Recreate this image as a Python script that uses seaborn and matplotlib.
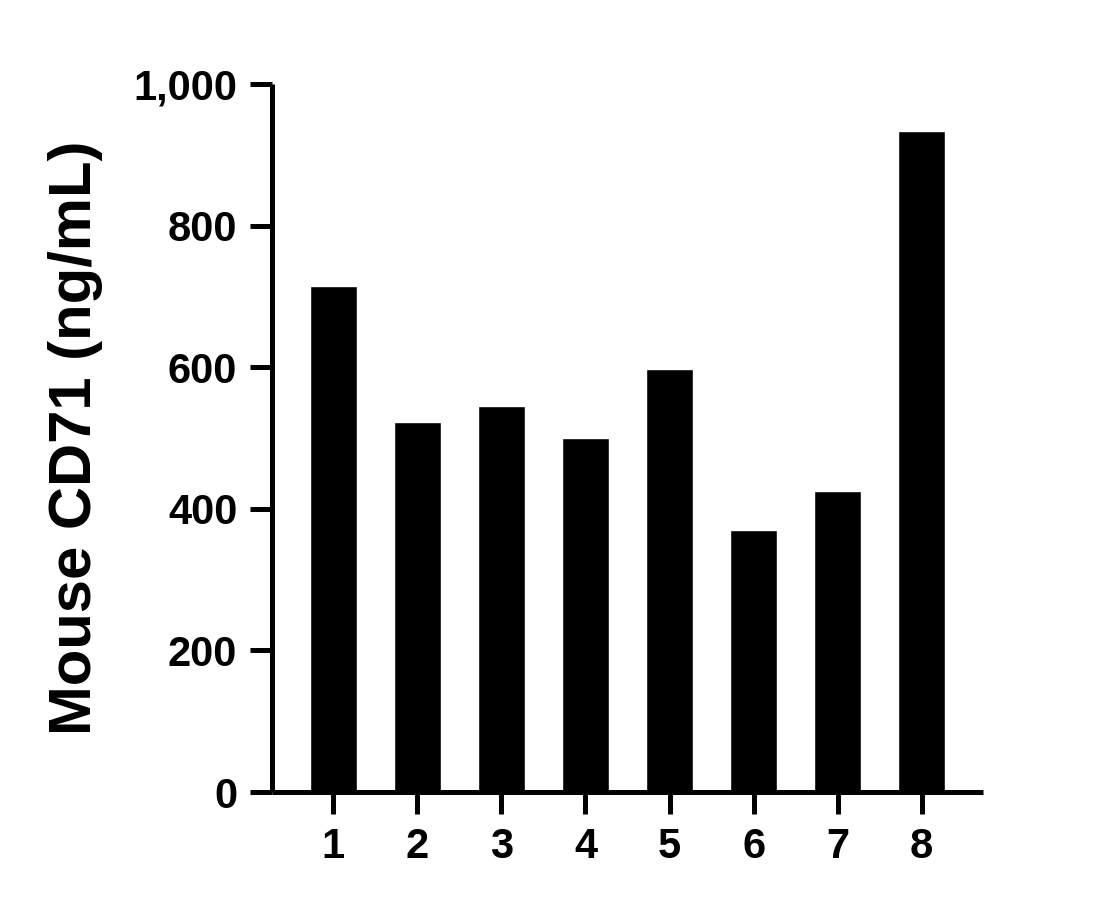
import matplotlib
matplotlib.use("Agg")
import matplotlib.pyplot as plt
import matplotlib.ticker as mticker
import seaborn as sns

# Sample numbers and measured concentrations
samples = ["1", "2", "3", "4", "5", "6", "7", "8"]
cd71_ng_ml = [715, 523, 545, 500, 597, 370, 425, 933]
y_ticks = [0, 200, 400, 600, 800, 1000]

sns.set_style("ticks")
plt.rcParams["font.family"] = ["Liberation Sans", "DejaVu Sans"]
plt.rcParams["font.weight"] = "bold"
plt.rcParams["text.color"] = "black"
plt.rcParams["axes.labelcolor"] = "black"
plt.rcParams["xtick.color"] = "black"
plt.rcParams["ytick.color"] = "black"

fig = plt.figure(figsize=(11.15, 9.09), dpi=100)
ax = fig.add_axes([272 / 1115, 117 / 909, 711 / 1115, 708 / 909])

sns.barplot(x=samples, y=cd71_ng_ml, color="black", saturation=1, width=0.56, ax=ax)

ax.set_xlim(-0.73, 7.73)
ax.set_ylim(0, 1000)
ax.set_yticks(y_ticks)
ax.yaxis.set_major_formatter(mticker.StrMethodFormatter("{x:,.0f}"))

lw = 3.6
for side in ["top", "right"]:
    ax.spines[side].set_visible(False)
for side in ["left", "bottom"]:
    ax.spines[side].set_linewidth(lw)
    ax.spines[side].set_color("black")
    ax.spines[side].set_capstyle("butt")

ax.tick_params(axis="both", direction="out", length=16, width=lw, color="black",
               labelcolor="black", labelsize=30, pad=9)
for lab in ax.get_xticklabels() + ax.get_yticklabels():
    lab.set_fontweight("bold")

ax.set_xlabel("")
ax.set_ylabel("Mouse CD71 (ng/mL)", fontsize=43, fontweight="bold", labelpad=22,
              color="black")

fig.savefig("out.png", dpi=100)
